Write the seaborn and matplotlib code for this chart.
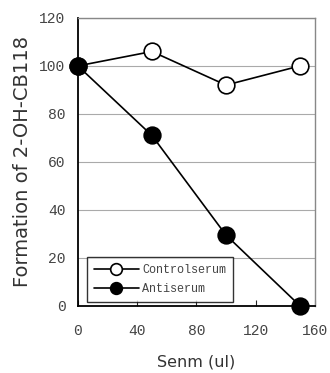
import pandas as pd
import seaborn as sns
import matplotlib.pyplot as plt

serum = [0, 50, 100, 150]
control = [100, 106, 92, 100]
anti = [100, 71, 29.5, 0]

df = pd.DataFrame({"serum": serum * 2,
                   "value": control + anti,
                   "group": ["Controlserum"] * 4 + ["Antiserum"] * 4})

sns.set_style("white")
plt.rcParams["font.family"] = ["DejaVu Sans"]

fig = plt.figure(figsize=(3.3, 3.73), dpi=100)
ax = fig.add_axes([0.236, 0.18, 0.718, 0.772])

for g, face in [("Controlserum", "white"), ("Antiserum", "black")]:
    sns.lineplot(data=df[df.group == g], x="serum", y="value", ax=ax,
                 color="black", lw=1.2, marker="o", markersize=12,
                 markerfacecolor=face, markeredgecolor="black",
                 markeredgewidth=1.2, label=g, clip_on=False, zorder=3)

ax.set_xlim(0, 160)
ax.set_ylim(0, 120)
ax.set_xticks([0, 40, 80, 120, 160])
ax.set_yticks([0, 20, 40, 60, 80, 100, 120])
ax.grid(axis="y", color="#aaaaaa", lw=0.8)
ax.set_axisbelow(True)

for s in ["left", "bottom"]:
    ax.spines[s].set_color("black")
    ax.spines[s].set_linewidth(1.3)
for s in ["top", "right"]:
    ax.spines[s].set_color("#888888")
    ax.spines[s].set_linewidth(1.0)

ax.tick_params(axis="x", direction="in", length=4, width=0.8, pad=13,
               bottom=True, labelsize=10.5, labelcolor="#444444")
ax.tick_params(axis="y", length=0, pad=9, labelsize=10.5, labelcolor="#444444")
for lab in ax.get_xticklabels() + ax.get_yticklabels():
    lab.set_family("Liberation Mono")

ax.set_xlabel("Senm (ul)", fontsize=11.5, color="#333333", labelpad=12)
ax.set_ylabel("Formation of 2-OH-CB118", fontsize=14, color="#333333", labelpad=5)

leg = ax.legend(loc="lower left", bbox_to_anchor=(0.04, 0.015), borderaxespad=0,
                frameon=True, fancybox=False, edgecolor="black",
                prop={"family": "Liberation Mono", "size": 8.5},
                handlelength=3.8, handletextpad=0.3, labelspacing=0.6,
                borderpad=0.55, markerscale=0.7)
leg.get_frame().set_linewidth(1.0)
for t in leg.get_texts():
    t.set_color("#444444")

fig.savefig("out.png", dpi=100)
